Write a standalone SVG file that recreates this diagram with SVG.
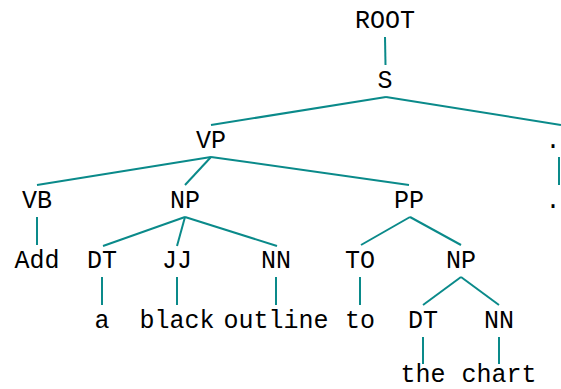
<svg xmlns="http://www.w3.org/2000/svg" width="561" height="389" viewBox="0 0 561 389">
<style>
text{font-family:"Liberation Mono","Courier New",monospace;font-size:25px;fill:#000;text-anchor:middle}
line{stroke:#0a8a8a;stroke-width:2;stroke-linecap:butt}
</style>
<rect width="561" height="389" fill="#fff"/>
<g id="connectors">
<line x1="385" y1="37" x2="385.5" y2="65"/>
<line x1="386" y1="97" x2="211" y2="125"/>
<line x1="386" y1="97" x2="561" y2="125"/>
<line x1="559" y1="157" x2="559" y2="185"/>
<line x1="211" y1="157" x2="37" y2="185"/>
<line x1="211" y1="157" x2="185" y2="185"/>
<line x1="211" y1="157" x2="409" y2="185"/>
<line x1="37" y1="217" x2="37" y2="245"/>
<line x1="185" y1="217" x2="103" y2="246"/>
<line x1="185" y1="217" x2="177" y2="246"/>
<line x1="185" y1="217" x2="277" y2="246"/>
<line x1="410" y1="217" x2="361" y2="245"/>
<line x1="410" y1="217" x2="461" y2="245"/>
<line x1="102" y1="277" x2="102" y2="305"/>
<line x1="177" y1="277" x2="177" y2="305"/>
<line x1="276" y1="277" x2="276" y2="305"/>
<line x1="360" y1="277" x2="360" y2="305"/>
<line x1="461" y1="277" x2="423" y2="305"/>
<line x1="461" y1="277" x2="499" y2="305"/>
<line x1="423" y1="337" x2="423" y2="364"/>
<line x1="499" y1="337" x2="499" y2="364"/>
</g>
<g id="n-root"><text x="385" y="28">ROOT</text></g>
<g id="n-s"><text x="385" y="88">S</text></g>
<g id="n-vp"><text x="211" y="148">VP</text></g>
<g id="n-period-tag"><text x="553" y="148">.</text></g>
<g id="n-vb"><text x="37" y="208">VB</text></g>
<g id="n-np1"><text x="185" y="208">NP</text></g>
<g id="n-pp"><text x="409" y="208">PP</text></g>
<g id="n-period"><text x="553" y="208">.</text></g>
<g id="n-add"><text x="37" y="268">Add</text></g>
<g id="n-dt1"><text x="102" y="268">DT</text></g>
<g id="n-jj"><text x="177" y="268">JJ</text></g>
<g id="n-nn1"><text x="276" y="268">NN</text></g>
<g id="n-to"><text x="360" y="268">TO</text></g>
<g id="n-np2"><text x="461" y="268">NP</text></g>
<g id="n-a"><text x="102" y="328">a</text></g>
<g id="n-black"><text x="177" y="328">black</text></g>
<g id="n-outline"><text x="276" y="328">outline</text></g>
<g id="n-to-word"><text x="360" y="328">to</text></g>
<g id="n-dt2"><text x="423" y="328">DT</text></g>
<g id="n-nn2"><text x="499" y="328">NN</text></g>
<g id="n-the"><text x="423" y="382">the</text></g>
<g id="n-chart"><text x="499" y="382">chart</text></g>
</svg>
